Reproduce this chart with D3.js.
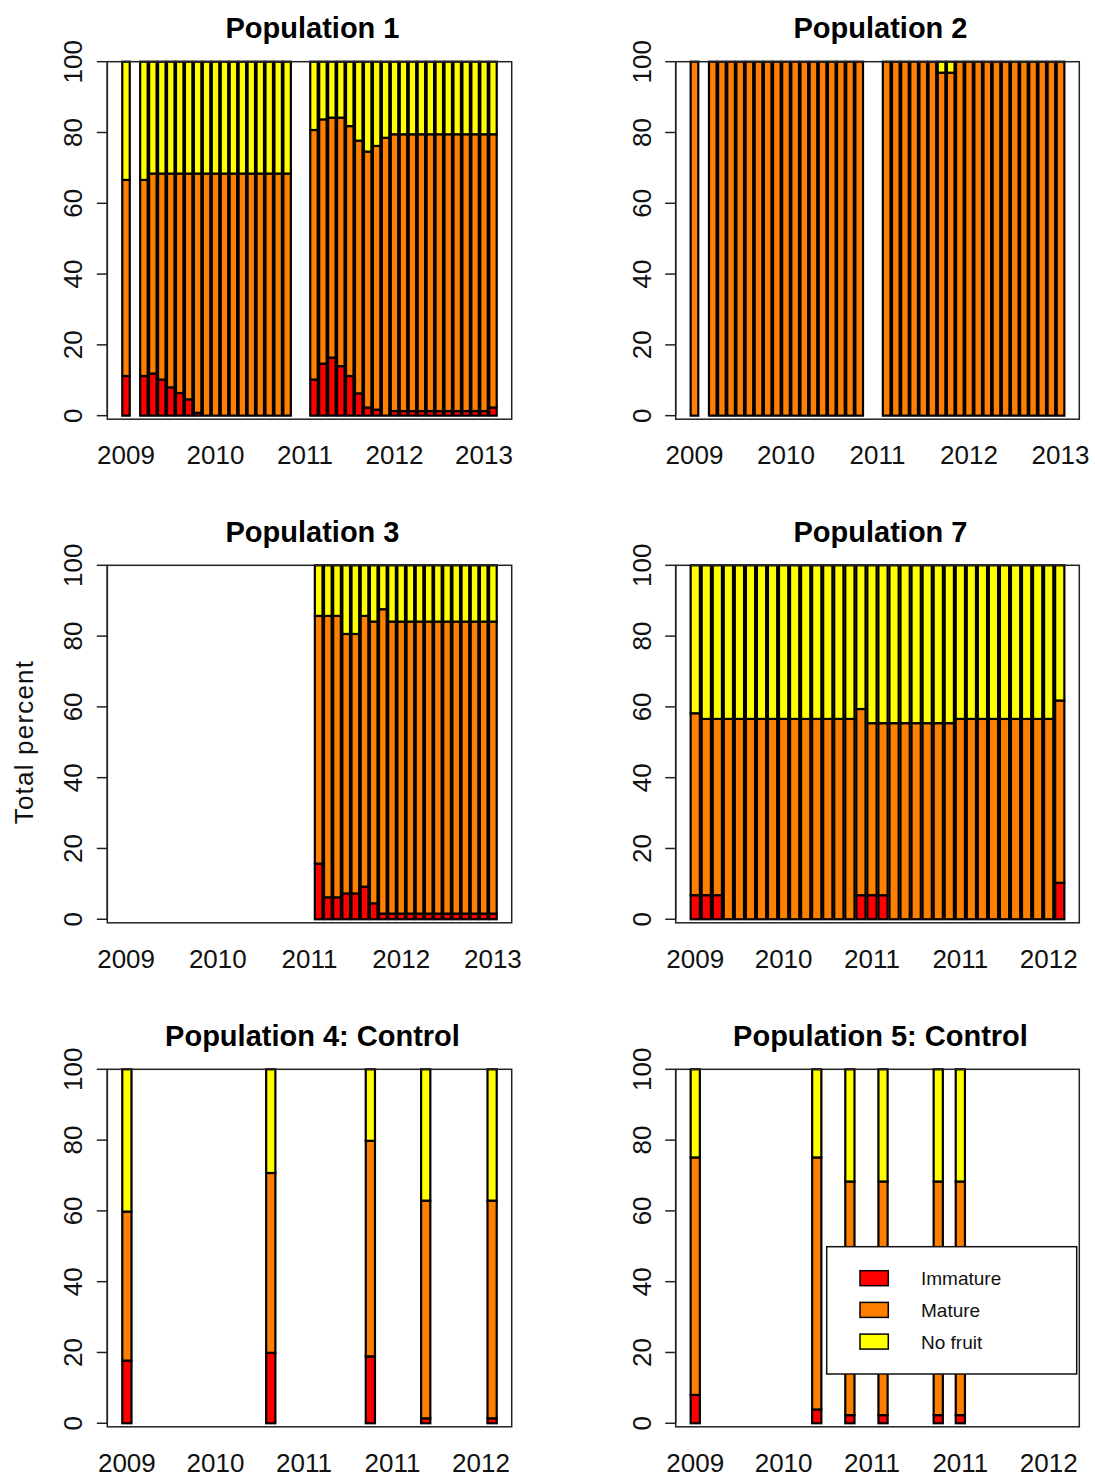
<!DOCTYPE html>
<html>
<head>
<meta charset="utf-8">
<script src="https://cdn.jsdelivr.net/npm/d3@7"></script>
<style>
  html, body { margin: 0; padding: 0; background: #fff; }
  svg { display: block; }
</style>
</head>
<body>
<svg id="chart" width="1095" height="1477"></svg>
<script>
// ---------------- DATA ----------------
const seriesNames = ["Immature", "Mature", "No fruit"];
const seriesColors = ["#FF0000", "#FF7F00", "#FFFF00"];
const yTicks = [0, 20, 40, 60, 80, 100];

// Population 1 (42 sampling slots; null = no sample)
const p1Immature = [11.2, null, 11.2, 11.9, 10.2, 8.0, 6.4, 4.6, 0.8, 0, 0, 0, 0, 0, 0, 0, 0, 0, 0, null, null,
  10.2, 14.7, 16.4, 14.0, 11.2, 6.3, 2.3, 1.7, 0, 1.3, 1.3, 1.3, 1.3, 1.3, 1.3, 1.3, 1.3, 1.3, 1.3, 1.3, 2.3];
const p1Mature = [55.4, null, 55.4, 56.5, 58.2, 60.4, 62.0, 63.8, 67.6, 68.4, 68.4, 68.4, 68.4, 68.4, 68.4, 68.4, 68.4, 68.4, 68.4, null, null,
  70.5, 69.0, 67.8, 70.2, 70.6, 71.4, 72.3, 74.5, 78.5, 78.2, 78.2, 78.2, 78.2, 78.2, 78.2, 78.2, 78.2, 78.2, 78.2, 78.2, 77.2];
const p1NoFruit = [33.4, null, 33.4, 31.6, 31.6, 31.6, 31.6, 31.6, 31.6, 31.6, 31.6, 31.6, 31.6, 31.6, 31.6, 31.6, 31.6, 31.6, 31.6, null, null,
  19.3, 16.3, 15.8, 15.8, 18.2, 22.3, 25.4, 23.8, 21.5, 20.5, 20.5, 20.5, 20.5, 20.5, 20.5, 20.5, 20.5, 20.5, 20.5, 20.5, 20.5];
const p1XLabels = ["2009", "2010", "2011", "2012", "2013"];
const p1XLabelSlots = [0, 10, 20, 30, 40];

// Population 2 (41 slots)
const p2Immature = [0, null, 0, 0, 0, 0, 0, 0, 0, 0, 0, 0, 0, 0, 0, 0, 0, 0, 0, null, null,
  0, 0, 0, 0, 0, 0, 0, 0, 0, 0, 0, 0, 0, 0, 0, 0, 0, 0, 0, 0];
const p2Mature = [100, null, 100, 100, 100, 100, 100, 100, 100, 100, 100, 100, 100, 100, 100, 100, 100, 100, 100, null, null,
  100, 100, 100, 100, 100, 100, 96.9, 96.9, 100, 100, 100, 100, 100, 100, 100, 100, 100, 100, 100, 100];
const p2NoFruit = [0, null, 0, 0, 0, 0, 0, 0, 0, 0, 0, 0, 0, 0, 0, 0, 0, 0, 0, null, null,
  0, 0, 0, 0, 0, 0, 3.1, 3.1, 0, 0, 0, 0, 0, 0, 0, 0, 0, 0, 0, 0];
const p2XLabels = ["2009", "2010", "2011", "2012", "2013"];
const p2XLabelSlots = [0, 10, 20, 30, 40];

// Population 3 (41 slots)
const p3Immature = [null, null, null, null, null, null, null, null, null, null, null, null, null, null, null, null, null, null, null, null, null,
  15.7, 6.2, 6.2, 7.3, 7.3, 9.2, 4.5, 1.6, 1.6, 1.6, 1.6, 1.6, 1.6, 1.6, 1.6, 1.6, 1.6, 1.6, 1.6, 1.6];
const p3Mature = [null, null, null, null, null, null, null, null, null, null, null, null, null, null, null, null, null, null, null, null, null,
  70.0, 79.5, 79.5, 73.3, 73.3, 76.5, 79.6, 86.0, 82.5, 82.5, 82.5, 82.5, 82.5, 82.5, 82.5, 82.5, 82.5, 82.5, 82.5, 82.5];
const p3NoFruit = [null, null, null, null, null, null, null, null, null, null, null, null, null, null, null, null, null, null, null, null, null,
  14.3, 14.3, 14.3, 19.4, 19.4, 14.3, 15.9, 12.4, 15.9, 15.9, 15.9, 15.9, 15.9, 15.9, 15.9, 15.9, 15.9, 15.9, 15.9, 15.9];
const p3XLabels = ["2009", "2010", "2011", "2012", "2013"];
const p3XLabelSlots = [0, 10, 20, 30, 40];

// Population 7 (34 slots)
const p7Immature = [6.8, 6.8, 6.8, 0, 0, 0, 0, 0, 0, 0, 0, 0, 0, 0, 0, 6.8, 6.8, 6.8, 0, 0, 0, 0, 0, 0, 0, 0, 0, 0, 0, 0, 0, 0, 0, 10.3];
const p7Mature = [51.4, 49.8, 49.8, 56.6, 56.6, 56.6, 56.6, 56.6, 56.6, 56.6, 56.6, 56.6, 56.6, 56.6, 56.6, 52.6, 48.6, 48.6,
  55.4, 55.4, 55.4, 55.4, 55.4, 55.4, 56.6, 56.6, 56.6, 56.6, 56.6, 56.6, 56.6, 56.6, 56.6, 51.5];
const p7NoFruit = [41.8, 43.4, 43.4, 43.4, 43.4, 43.4, 43.4, 43.4, 43.4, 43.4, 43.4, 43.4, 43.4, 43.4, 43.4, 40.6, 44.6, 44.6,
  44.6, 44.6, 44.6, 44.6, 44.6, 44.6, 43.4, 43.4, 43.4, 43.4, 43.4, 43.4, 43.4, 43.4, 43.4, 38.2];
const p7XLabels = ["2009", "2010", "2011", "2011", "2012"];
const p7XLabelSlots = [0, 8, 16, 24, 32];

// Population 4: Control (34 slots)
const p4Immature = [17.7, null, null, null, null, null, null, null, null, null, null, null, null, 19.9, null, null, null, null, null, null, null, null,
  18.9, null, null, null, null, 1.4, null, null, null, null, null, 1.4];
const p4Mature = [42.1, null, null, null, null, null, null, null, null, null, null, null, null, 50.8, null, null, null, null, null, null, null, null,
  60.9, null, null, null, null, 61.5, null, null, null, null, null, 61.5];
const p4NoFruit = [40.2, null, null, null, null, null, null, null, null, null, null, null, null, 29.3, null, null, null, null, null, null, null, null,
  20.2, null, null, null, null, 37.1, null, null, null, null, null, 37.1];
const p4XLabels = ["2009", "2010", "2011", "2011", "2012"];
const p4XLabelSlots = [0, 8, 16, 24, 32];

// Population 5: Control (34 slots)
const p5Immature = [8.0, null, null, null, null, null, null, null, null, null, null, 3.9, null, null, 2.3, null, null, 2.3, null, null, null, null,
  2.3, null, 2.3, null, null, null, null, null, null, null, null, null];
const p5Mature = [67.1, null, null, null, null, null, null, null, null, null, null, 71.2, null, null, 66.0, null, null, 66.0, null, null, null, null,
  66.0, null, 66.0, null, null, null, null, null, null, null, null, null];
const p5NoFruit = [24.9, null, null, null, null, null, null, null, null, null, null, 24.9, null, null, 31.7, null, null, 31.7, null, null, null, null,
  31.7, null, 31.7, null, null, null, null, null, null, null, null, null];
const p5XLabels = ["2009", "2010", "2011", "2011", "2012"];
const p5XLabelSlots = [0, 8, 16, 24, 32];

// ---------------- LAYOUT ----------------
const colLeft = [107.3, 675.7];
const colWidth = [404.4, 403.6];
const rowTop = [61.7, 565.3, 1069.3];
const boxH = 357.5;

const panels = [
  { title: "Population 1", col: 0, row: 0, imm: p1Immature, mat: p1Mature, nf: p1NoFruit, xl: p1XLabels, xs: p1XLabelSlots },
  { title: "Population 2", col: 1, row: 0, imm: p2Immature, mat: p2Mature, nf: p2NoFruit, xl: p2XLabels, xs: p2XLabelSlots },
  { title: "Population 3", col: 0, row: 1, imm: p3Immature, mat: p3Mature, nf: p3NoFruit, xl: p3XLabels, xs: p3XLabelSlots, ylab: "Total percent" },
  { title: "Population 7", col: 1, row: 1, imm: p7Immature, mat: p7Mature, nf: p7NoFruit, xl: p7XLabels, xs: p7XLabelSlots },
  { title: "Population 4: Control", col: 0, row: 2, imm: p4Immature, mat: p4Mature, nf: p4NoFruit, xl: p4XLabels, xs: p4XLabelSlots },
  { title: "Population 5: Control", col: 1, row: 2, imm: p5Immature, mat: p5Mature, nf: p5NoFruit, xl: p5XLabels, xs: p5XLabelSlots, legend: true }
];

const FONT = "'Liberation Sans', Arial, Helvetica, sans-serif";
const svg = d3.select("#chart");

panels.forEach(p => {
  const left = colLeft[p.col], width = colWidth[p.col];
  const top = rowTop[p.row], bottom = top + boxH;
  const n = p.imm.length;
  // R barplot geometry: width 1, space 0.2, 4% padding
  const rng = 1.2 * n - 0.2;
  const x = d3.scaleLinear().domain([0.2 - 0.04 * rng, 1.2 * n + 0.04 * rng]).range([left, left + width]);
  const y = d3.scaleLinear().domain([-1, 100]).range([bottom, top]);

  const g = svg.append("g");

  // stacked data
  const rows = p.imm.map((v, i) => ({ i, imm: v, mat: p.mat[i], nf: p.nf[i] }))
    .filter(d => d.imm !== null);
  const stack = d3.stack().keys(["imm", "mat", "nf"]);
  const layers = stack(rows);

  layers.forEach((layer, k) => {
    g.append("g").selectAll("rect").data(layer).join("rect")
      .attr("x", d => x(0.2 + 1.2 * d.data.i))
      .attr("width", d => x(1.2 + 1.2 * d.data.i) - x(0.2 + 1.2 * d.data.i))
      .attr("y", d => y(d[1]))
      .attr("height", d => Math.max(0, y(d[0]) - y(d[1])))
      .attr("fill", seriesColors[k])
      .attr("stroke", "#000")
      .attr("stroke-width", 2.2);
  });

  // box
  g.append("rect")
    .attr("x", left).attr("y", top).attr("width", width).attr("height", boxH)
    .attr("fill", "none").attr("stroke", "#222").attr("stroke-width", 1.5);

  // y axis ticks and labels
  const yg = g.append("g");
  yg.append("line").attr("x1", left).attr("x2", left).attr("y1", y(0)).attr("y2", y(100))
    .attr("stroke", "#222").attr("stroke-width", 1.5);
  yTicks.forEach(t => {
    yg.append("line").attr("x1", left - 10.5).attr("x2", left).attr("y1", y(t)).attr("y2", y(t))
      .attr("stroke", "#222").attr("stroke-width", 1.5);
    yg.append("text")
      .attr("transform", `translate(${left - 25},${y(t)}) rotate(-90)`)
      .attr("text-anchor", "middle")
      .attr("font-family", FONT).attr("font-size", 26).attr("fill", "#111")
      .text(t);
  });

  // x labels
  p.xl.forEach((lab, j) => {
    const s = p.xs[j];
    g.append("text")
      .attr("x", (x(0.2 + 1.2 * s) + x(1.2 + 1.2 * s)) / 2)
      .attr("y", bottom + 45)
      .attr("text-anchor", "middle")
      .attr("font-family", FONT).attr("font-size", 26).attr("fill", "#111")
      .text(lab);
  });

  // title
  g.append("text")
    .attr("x", left + width / 2 + 3)
    .attr("y", top - 23.5)
    .attr("text-anchor", "middle")
    .attr("font-family", FONT).attr("font-size", 29).attr("font-weight", "bold").attr("fill", "#000")
    .text(p.title);

  // y label
  if (p.ylab) {
    g.append("text")
      .attr("transform", `translate(33,${top + boxH / 2 - 2}) rotate(-90)`)
      .attr("text-anchor", "middle")
      .attr("font-family", FONT).attr("font-size", 26).attr("letter-spacing", 1.2).attr("fill", "#111")
      .text(p.ylab);
  }

  // legend
  if (p.legend) {
    const lx = left + 151, ly = top + 177.4, lw = 250, lh = 127.3;
    const lg = g.append("g");
    lg.append("rect").attr("x", lx).attr("y", ly).attr("width", lw).attr("height", lh)
      .attr("fill", "#fff").attr("stroke", "#111").attr("stroke-width", 1.5);
    seriesNames.forEach((name, k) => {
      const cy = ly + 31.5 + k * 31.7;
      lg.append("rect").attr("x", lx + 33.3).attr("y", cy - 7.5).attr("width", 28.3).attr("height", 15)
        .attr("fill", seriesColors[k]).attr("stroke", "#000").attr("stroke-width", 1.5);
      lg.append("text").attr("x", lx + 94.3).attr("y", cy + 7)
        .attr("font-family", FONT).attr("font-size", 19).attr("fill", "#111")
        .text(name);
    });
  }
});
</script>
</body>
</html>
